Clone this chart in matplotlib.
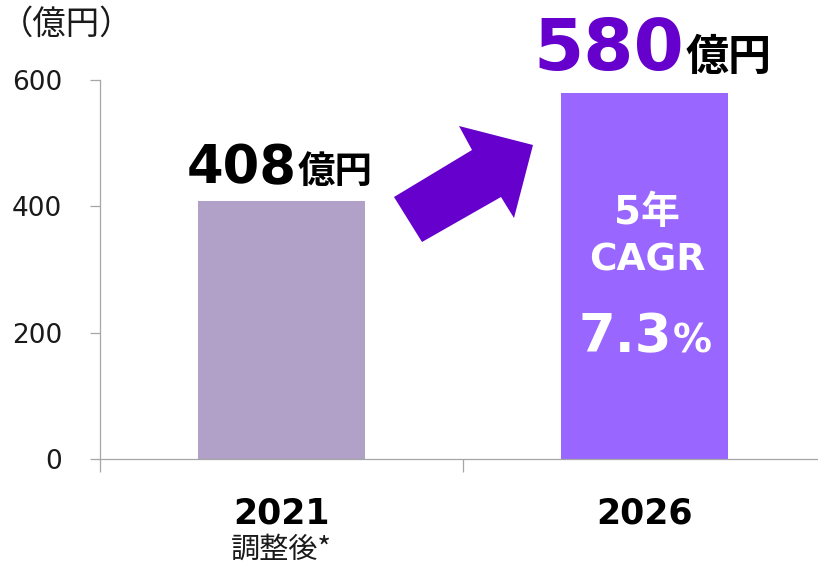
import matplotlib
matplotlib.use("Agg")
import matplotlib.pyplot as plt
from matplotlib.patches import Polygon

plt.rcParams["font.family"] = ["DejaVu Sans", "Noto Sans CJK JP"]

# data
years = ["2021", "2026"]
sublabels = ["調整後*", ""]
values = [408, 580]
bar_colors = ["#B1A0C7", "#9966FF"]
value_colors = ["#000000", "#6600CC"]
unit = "億円"
yticks = [0, 200, 400, 600]
cagr_lines = ["5年", "CAGR"]
cagr_value = "7.3"

AXIS = "#A6A6A6"
JP = ["Noto Sans CJK JP", "DejaVu Sans"]

W, H = 818, 568
fig = plt.figure(figsize=(W / 100, H / 100), dpi=100)
ax = fig.add_axes([100 / W, (H - 459) / H, (W - 100) / W, (459 - 80) / H])

x = list(range(len(years)))
bars = ax.bar(x, values, width=0.458, color=bar_colors, zorder=2)

ax.set_xlim(-0.5, -0.5 + (W - 100) / 363)
ax.set_ylim(0, 600)
ax.set_yticks(yticks)
ax.tick_params(axis="y", direction="out", length=7.2, width=0.9, color=AXIS,
               labelsize=19, pad=20, labelcolor="#1a1a1a")
ax.set_xticks([])
ax.set_xticks([-0.5, 0.5], minor=True)
ax.tick_params(axis="x", which="minor", direction="out", length=9.5, width=0.9,
               color=AXIS)
for s in ["top", "right"]:
    ax.spines[s].set_visible(False)
for s in ["left", "bottom"]:
    ax.spines[s].set_color(AXIS)
    ax.spines[s].set_linewidth(0.9)

# value labels above bars: big number + smaller unit
num_size = [38, 52]
unit_size = [27, 31]
dx = [15, 40]
dy = [18, 23]
for i, v in enumerate(values):
    ax.annotate(str(v), xy=(i, v), xytext=(dx[i], dy[i]), textcoords="offset pixels",
                ha="right", va="baseline", fontsize=num_size[i], fontweight="bold",
                color=value_colors[i], annotation_clip=False)
    ax.annotate(unit, xy=(i, v), xytext=(dx[i] + 1, dy[i]), textcoords="offset pixels",
                ha="left", va="baseline", fontsize=unit_size[i], fontweight="bold",
                color="#000000", family=JP, annotation_clip=False)

# CAGR text inside second bar
top = values[1]
ax.annotate(cagr_lines[0], xy=(1, top), xytext=(2, -120), textcoords="offset pixels",
            ha="center", va="center", fontsize=28, fontweight="bold", color="white")
ax.annotate(cagr_lines[1], xy=(1, top), xytext=(3, -168), textcoords="offset pixels",
            ha="center", va="center", fontsize=27, fontweight="bold", color="white")
ax.annotate(cagr_value, xy=(1, top), xytext=(27, -260), textcoords="offset pixels",
            ha="right", va="baseline", fontsize=38, fontweight="bold", color="white")
ax.annotate("%", xy=(1, top), xytext=(28, -260), textcoords="offset pixels",
            ha="left", va="baseline", fontsize=28, fontweight="bold", color="white")

# category labels
for i, (yr, sub) in enumerate(zip(years, sublabels)):
    ax.annotate(yr, xy=(i, 0), xytext=(0, -54), textcoords="offset pixels",
                ha="center", va="center", fontsize=25, fontweight="bold",
                color="#000000", annotation_clip=False)
    if sub:
        ax.annotate(sub, xy=(i, 0), xytext=(0, -91), textcoords="offset pixels",
                    ha="center", va="center", fontsize=21, family=JP,
                    color="#1a1a1a", annotation_clip=False)

# unit label
fig.text(0 / W, 1 - 24 / H, "（億円）", ha="left", va="center", fontsize=24,
         family=JP, color="#1a1a1a")

# growth arrow (figure pixel coords, y measured from top)
arrow_px = [(394, 197), (422, 242), (501, 197), (514, 218), (533, 145),
            (459, 126), (472, 150)]
arrow = Polygon([(px / W, 1 - py / H) for px, py in arrow_px], closed=True,
                transform=fig.transFigure, facecolor="#6600CC", edgecolor="none")
fig.patches.append(arrow)

fig.savefig("out.png", dpi=100)
